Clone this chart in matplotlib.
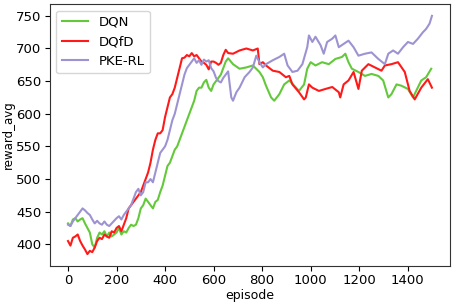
import matplotlib
matplotlib.use("Agg")
import matplotlib.pyplot as plt

# values, episode -> reward_avg
ep_left = list(range(0, 670, 10))

dqn_left = [432, 428, 438, 440, 435, 438, 440, 432, 425, 418,
            400, 395, 410, 418, 415, 420, 412, 418, 412, 415,
            418, 425, 415, 420, 418, 425, 430, 428, 430, 440,
            455, 460, 470, 465, 460, 455, 465, 468, 480, 490,
            505, 520, 525, 535, 545, 550, 560, 570, 580, 590,
            600, 610, 620, 635, 640, 640, 648, 652, 640, 635,
            645, 650, 655, 660, 670, 680, 685]
dqfd_left = [405, 398, 410, 412, 415, 405, 398, 392, 385, 390,
             388, 395, 405, 410, 408, 415, 412, 410, 420, 418,
             425, 428, 420, 430, 440, 455, 460, 465, 470, 475,
             480, 490, 500, 510, 525, 545, 560, 570, 570, 575,
             595, 610, 625, 630, 640, 655, 670, 685, 686, 690,
             688, 693, 688, 690, 685, 680, 678, 675, 668, 680,
             680, 678, 675, 678, 690, 698, 693]
pke_left = [430, 428, 435, 440, 445, 450, 455, 452, 448, 445,
            438, 432, 436, 432, 430, 435, 430, 428, 432, 436,
            440, 443, 438, 445, 450, 455, 460, 470, 480, 485,
            475, 480, 495, 495, 500, 495, 510, 525, 540, 545,
            550, 560, 575, 590, 600, 615, 630, 645, 660, 670,
            675, 680, 685, 678, 682, 675, 683, 680, 682, 670,
            665, 655, 650, 648, 655, 660, 665]

dqn_ep_r = [680, 707, 735, 762, 789, 803, 816, 837, 850, 871, 891, 912, 932,
            952, 973, 986, 1000, 1020, 1047, 1075, 1102, 1129, 1143, 1156,
            1170, 1197, 1224, 1251, 1279, 1299, 1320, 1333, 1354, 1374, 1401,
            1422, 1435, 1456, 1476, 1497]
dqn_r = [676, 669, 671, 674, 664, 656, 643, 625, 620, 630, 645, 651, 643,
         635, 645, 669, 679, 674, 679, 676, 684, 687, 692, 679,
         669, 664, 658, 661, 658, 651, 625, 630, 645, 643, 638,
         625, 635, 651, 656, 669]

dqfd_ep_r = [680, 707, 735, 762, 782, 789, 803, 816, 844, 871, 898, 912, 925,
             952, 973, 980, 993, 1007, 1034, 1061, 1089, 1116, 1122, 1136,
             1156, 1177, 1197, 1211, 1238, 1265, 1292, 1306, 1333, 1360, 1388,
             1408, 1429, 1456, 1483, 1500]
dqfd_r = [692, 697, 700, 697, 700, 676, 679, 674, 666, 664, 656, 658, 645,
          633, 622, 625, 645, 640, 635, 638, 641, 633, 625, 645,
          651, 664, 638, 666, 676, 671, 666, 674, 676, 679, 664,
          635, 622, 640, 653, 640]

pke_ep_r = [673, 680, 694, 707, 728, 748, 762, 776, 789, 803, 816, 844, 871,
            891, 905, 925, 946, 966, 986, 993, 1007, 1020, 1041, 1054, 1068,
            1089, 1102, 1116, 1136, 1156, 1177, 1197, 1224, 1251, 1279, 1306,
            1320, 1340, 1360, 1381, 1401, 1422, 1442, 1463, 1476, 1490, 1500]
pke_r = [625, 620, 633, 640, 656, 664, 671, 689, 679, 671, 676, 682, 687,
         692, 674, 664, 666, 676, 702, 720, 710, 718, 705, 692, 710,
         715, 720, 702, 707, 712, 702, 689, 692, 694, 684, 676,
         692, 697, 692, 702, 710, 707, 715, 725, 730, 738, 750]

fig = plt.figure(figsize=(4.57, 3.04), dpi=100)
ax = fig.add_axes([0.109, 0.125, 0.876, 0.862])

ax.plot(ep_left + dqn_ep_r, dqn_left + dqn_r, color='#63c93a', lw=1.5, label='DQN')
ax.plot(ep_left + dqfd_ep_r, dqfd_left + dqfd_r, color='#ff1a1a', lw=1.5, label='DQfD')
ax.plot(ep_left + pke_ep_r, pke_left + pke_r, color='#9e93d2', lw=1.5, label='PKE-RL')

ax.set_xticks([0, 200, 400, 600, 800, 1000, 1200, 1400])
ax.set_yticks([400, 450, 500, 550, 600, 650, 700, 750])
ax.tick_params(labelsize=9.5, pad=2.5)
ax.set_xlabel('episode', fontsize=9, labelpad=1)
ax.set_ylabel('reward_avg', fontsize=8.5, labelpad=1)
ax.legend(loc='upper left', fontsize=9.5, handlelength=2.0)
for s in ax.spines.values():
    s.set_color('#333333')

fig.savefig('out.png', dpi=100)
